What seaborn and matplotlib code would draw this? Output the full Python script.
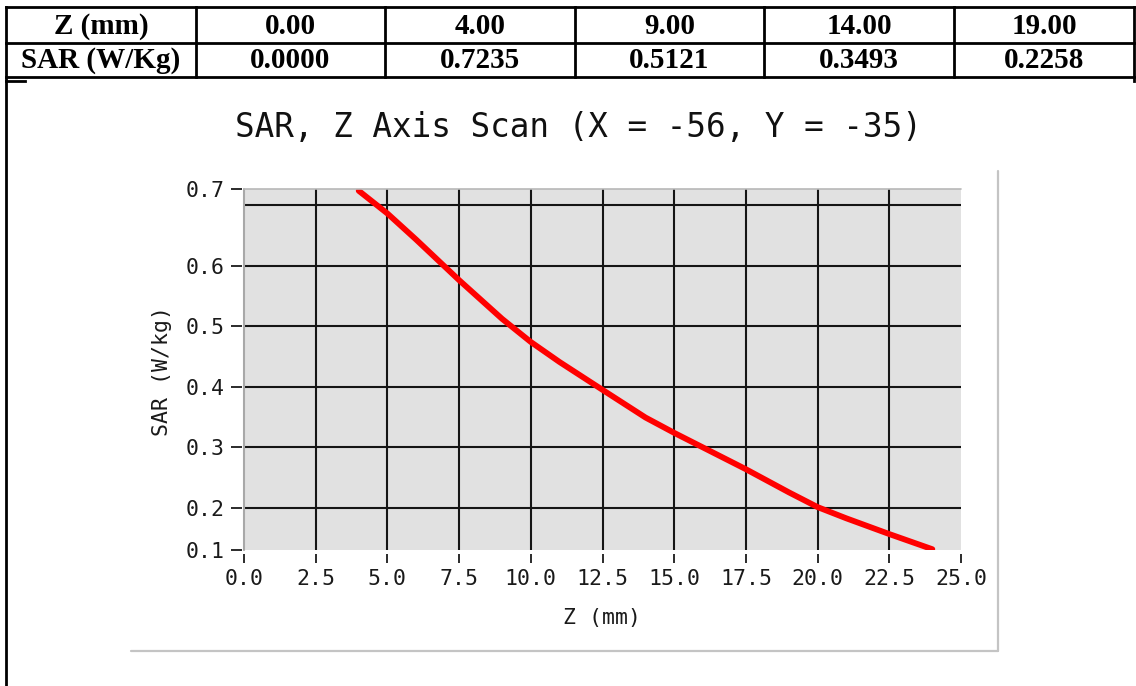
import numpy as np
import pandas as pd
import matplotlib
matplotlib.use("Agg")
import matplotlib.pyplot as plt
from matplotlib.lines import Line2D
import seaborn as sns

# ---------------- data ----------------
table_header_z = "Z (mm)"
table_header_sar = "SAR (W/Kg)"
table_z = [0.00, 4.00, 9.00, 14.00, 19.00]
table_sar = [0.0000, 0.7235, 0.5121, 0.3493, 0.2258]

curve_z = [4.0, 5.0, 6.0, 7.5, 9.0, 10.0, 11.0, 12.5, 14.0, 15.0, 16.0, 17.5,
           19.0, 20.0, 21.0, 22.5, 24.0]
curve_sar = [0.7235, 0.686, 0.643, 0.576, 0.5121, 0.474, 0.441, 0.395, 0.3493,
             0.324, 0.300, 0.264, 0.2258, 0.2015, 0.183, 0.157, 0.132]

x_ticks = [0.0, 2.5, 5.0, 7.5, 10.0, 12.5, 15.0, 17.5, 20.0, 22.5, 25.0]
y_tick_labels = ["0.7", "0.6", "0.5", "0.4", "0.3", "0.2", "0.1"]
y_grid = [0.7, 0.6, 0.5, 0.4, 0.3, 0.2]

title = "SAR, Z Axis Scan (X = -56, Y = -35)"
x_label = "Z (mm)"
y_label = "SAR (W/kg)"

# ---------------- figure ----------------
sns.set_style("white")
plt.rcParams["font.family"] = ["DejaVu Sans"]

W, H = 1136, 686
fig = plt.figure(figsize=(W / 100, H / 100), dpi=100)
fig.patch.set_facecolor("white")

# overlay for table / frame lines (pixel coordinates)
ov = fig.add_axes([0, 0, 1, 1])
ov.set_xlim(0, W)
ov.set_ylim(H, 0)
ov.axis("off")
ov.patch.set_alpha(0)

def hline(y, x0, x1, **kw):
    ov.add_line(Line2D([x0, x1], [y, y], **kw))

def vline(x, y0, y1, **kw):
    ov.add_line(Line2D([x, x], [y0, y1], **kw))

tk = dict(color="black", lw=2.0, solid_capstyle="projecting")
col_x = [6, 196, 385, 575, 764, 954, 1134]
row_y = [7, 43, 77]
for y in row_y:
    hline(y, col_x[0], col_x[-1], **tk)
vline(col_x[0], row_y[0], H, **tk)
for x in col_x[1:-1]:
    vline(x, row_y[0], row_y[-1], **tk)
vline(col_x[-1], row_y[0], 81, **tk)
hline(81, col_x[0], 25, **tk)

tfont = dict(family="Liberation Serif", weight="bold", fontsize=21,
             ha="center", va="center", color="black")
cells_top = [table_header_z] + [f"{v:.2f}" for v in table_z]
cells_bot = [table_header_sar] + [f"{v:.4f}" for v in table_sar]
for i in range(len(cells_top)):
    cx = (col_x[i] + col_x[i + 1]) / 2
    ov.text(cx, (row_y[0] + row_y[1]) / 2 + 1, cells_top[i], **tfont)
    ov.text(cx, (row_y[1] + row_y[2]) / 2 + 1, cells_bot[i], **tfont)

# light grey frame of the chart picture
fk = dict(color="#c4c4c4", lw=1.6)
vline(998, 171, 651, **fk)
hline(651, 131, 998, **fk)

# ---------------- chart axes ----------------
left, right, top, bottom = 244, 961, 189, 550
ax = fig.add_axes([left / W, 1 - bottom / H, (right - left) / W, (bottom - top) / H])
ax.set_facecolor("#e1e1e1")
ymin, ymax = 0.1307, 0.7264
ax.set_xlim(0, 25)
ax.set_ylim(ymin, ymax)

for v in x_ticks[1:-1]:
    ax.axvline(v, color="#151515", lw=1.5, zorder=1)
for h in y_grid:
    ax.axhline(h, color="#151515", lw=1.5, zorder=1)

df = pd.DataFrame({"z": curve_z, "sar": curve_sar})
sns.lineplot(data=df, x="z", y="sar", ax=ax, color="#ff0000", linewidth=4.2, zorder=3)

# plot-area border (left and top only)
ax.axvline(0, color="#a8a8a8", lw=1.5, zorder=4, clip_on=False)
ax.axhline(ymax, color="#b8b8b8", lw=1.2, zorder=4, clip_on=False)

for s in ["left", "right", "top", "bottom"]:
    ax.spines[s].set_visible(False)
ax.spines["left"].set_position(("outward", 1.5))
ax.spines["bottom"].set_position(("outward", 2.9))

mono = "DejaVu Sans Mono"
y_tick_pos = [ymax] + y_grid[1:] + [ymin]
ax.set_yticks(y_tick_pos)
ax.set_yticklabels(y_tick_labels, family=mono, fontsize=15.5, color="#1a1a1a")
ax.set_xticks(x_ticks)
ax.set_xticklabels([f"{v:.1f}" for v in x_ticks], family=mono, fontsize=15.5, color="#1a1a1a")
ax.tick_params(axis="y", direction="out", length=8, width=1.3, pad=4.5, color="#1a1a1a", left=True)
ax.tick_params(axis="x", direction="out", length=6.5, width=1.3, pad=4.2, color="#1a1a1a", bottom=True)
ax.set_xlabel("")
ax.set_ylabel("")
ax.grid(False)

fig.text(578 / W, 1 - 127 / H, title, ha="center", va="center",
         family=mono, fontsize=23.5, color="#111111")
fig.text(162 / W, 1 - 371 / H, y_label, ha="center", va="center", rotation=90,
         family=mono, fontsize=15.5, color="#1a1a1a")
fig.text(602 / W, 1 - 618 / H, x_label, ha="center", va="center",
         family=mono, fontsize=15.5, color="#1a1a1a")

fig.savefig("out.png", dpi=100, facecolor="white")
